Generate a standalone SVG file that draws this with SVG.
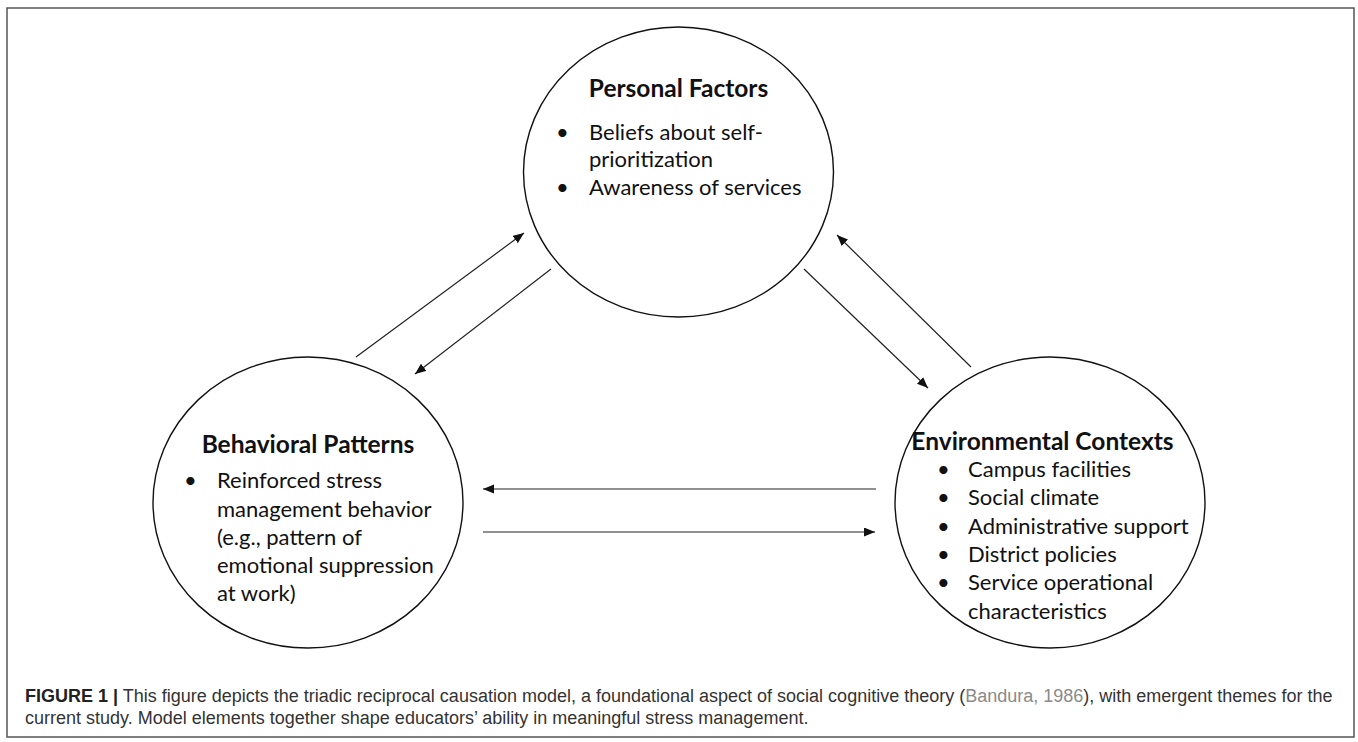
<svg xmlns="http://www.w3.org/2000/svg" width="1358" height="742" viewBox="0 0 1358 742">
<defs>
<marker id="ah" markerUnits="userSpaceOnUse" markerWidth="12" markerHeight="10" refX="11" refY="4.5" orient="auto">
<path d="M0,0 L11,4.5 L0,9 z" fill="#111"/>
</marker>
<style>
.node ellipse{fill:none;stroke:#111;stroke-width:1.4}
.h{font-family:Lato,"Open Sans",sans-serif;font-weight:bold;font-size:24.5px;fill:#111}
.b{font-family:Lato,"Open Sans",sans-serif;font-size:22px;fill:#111}
.conn line{stroke:#222;stroke-width:1.2;marker-end:url(#ah)}
.cap{font-family:"Liberation Sans",Arial,sans-serif;font-size:18px;fill:#333}
</style>
</defs>
<rect x="7" y="8" width="1347" height="729" fill="#fff" stroke="#555" stroke-width="1.5"/>
<g id="personal-factors" class="node">
<ellipse cx="678.5" cy="172" rx="155" ry="145"/>
<text class="h" x="678.5" y="97" text-anchor="middle">Personal Factors</text>
<text class="b" x="556" y="140">•</text>
<text class="b" x="589" y="140">Beliefs about self-</text>
<text class="b" x="589" y="167">prioritization</text>
<text class="b" x="556" y="195">•</text>
<text class="b" x="589" y="195">Awareness of services</text>
</g>
<g id="behavioral-patterns" class="node">
<ellipse cx="308" cy="502.5" rx="155" ry="145.5"/>
<text class="h" x="308" y="453" text-anchor="middle">Behavioral Patterns</text>
<text class="b" x="184" y="488">•</text>
<text class="b" x="217" y="488">Reinforced stress</text>
<text class="b" x="217" y="516.5">management behavior</text>
<text class="b" x="217" y="545">(e.g., pattern of</text>
<text class="b" x="217" y="573">emotional suppression</text>
<text class="b" x="217" y="600.5">at work)</text>
</g>
<g id="environmental-contexts" class="node">
<ellipse cx="1050" cy="502.5" rx="155" ry="145.5"/>
<text class="h" x="1042.5" y="450" text-anchor="middle" font-size="25.5">Environmental Contexts</text>
<text class="b" x="937" y="477">•</text>
<text class="b" x="968" y="477">Campus facilities</text>
<text class="b" x="937" y="505">•</text>
<text class="b" x="968" y="505">Social climate</text>
<text class="b" x="937" y="533.5">•</text>
<text class="b" x="968" y="533.5">Administrative support</text>
<text class="b" x="937" y="562">•</text>
<text class="b" x="968" y="562">District policies</text>
<text class="b" x="937" y="590">•</text>
<text class="b" x="968" y="590">Service operational</text>
<text class="b" x="968" y="618.5">characteristics</text>
</g>
<g id="connectors" class="conn">
<line x1="356" y1="357" x2="524" y2="233"/>
<line x1="551" y1="269" x2="415" y2="374"/>
<line x1="804" y1="269" x2="928" y2="388"/>
<line x1="971" y1="367" x2="837" y2="235"/>
<line x1="876" y1="489" x2="483" y2="489"/>
<line x1="483" y1="532" x2="875" y2="532"/>
</g>
<g id="caption">
<text class="cap" x="25" y="702"><tspan font-weight="bold" fill="#222">FIGURE 1 |</tspan> This figure depicts the triadic reciprocal causation model, a foundational aspect of social cognitive theory (<tspan fill="#8a8a8a">Bandura, 1986</tspan>), with emergent themes for the</text>
<text class="cap" x="25" y="724">current study. Model elements together shape educators’ ability in meaningful stress management.</text>
</g>
</svg>
